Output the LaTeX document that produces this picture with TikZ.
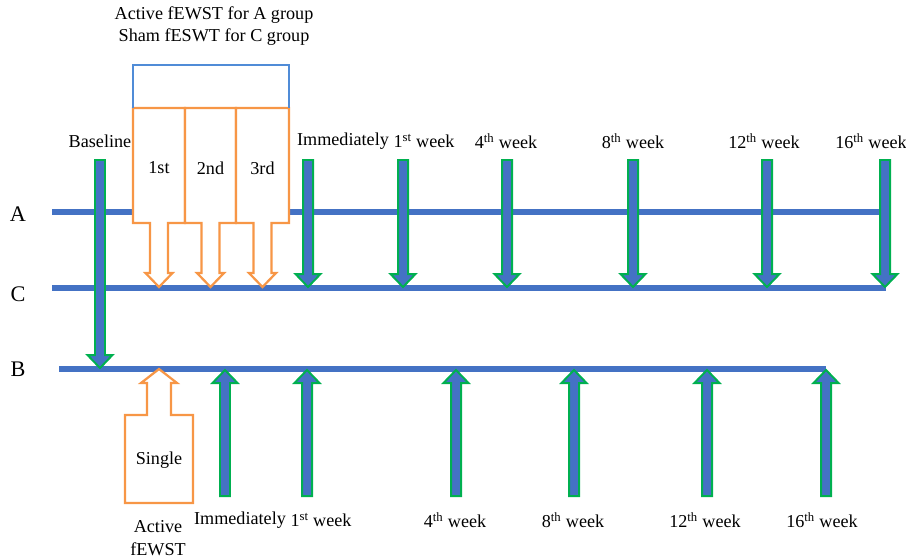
\documentclass[tikz,border=0pt]{standalone}
\usepackage{fontspec}
\setmainfont{Liberation Serif}
\usetikzlibrary{calc}
\definecolor{LineBlue}{RGB}{68,114,196}
\definecolor{EdgeGreen}{RGB}{0,176,80}
\definecolor{ShockOrange}{RGB}{247,150,70}
\definecolor{BracketBlue}{RGB}{80,140,215}
\tikzset{
  timeline/.style={
    draw=LineBlue,
    line width=4.3pt
  },
  visit/.style={
    draw=EdgeGreen,
    fill=LineBlue,
    line width=1.7pt
  },
  session/.style={
    draw=ShockOrange,
    fill=white,
    line width=1.9pt
  },
  label/.style={
    font=\fontsize{15.5}{18}\selectfont,
    inner sep=0pt
  },
  group/.style={
    font=\fontsize{19}{22}\selectfont,
    inner sep=0pt
  },
  bracket/.style={draw=BracketBlue,line width=1pt}
}

\begin{document}
\begin{tikzpicture}[x=0.03cm,y=-0.03cm]
\useasboundingbox (0,0) rectangle (906,559);

% group lines
\coordinate (Aw) at (52,212);
\coordinate (Ae) at (883,212);
\coordinate (Cw) at (52,288);
\coordinate (Ce) at (886,288);
\coordinate (Bw) at (59,369);
\coordinate (Be) at (826,369);

\draw[timeline] (Aw) -- (Ae);
\draw[timeline] (Cw) -- (Ce);
\draw[timeline] (Bw) -- (Be);

\node[group] (gA) at (18,214) {A};
\node[group] (gC) at (18,294) {C};
\node[group] (gB) at (18,369) {B};

% three sessions for A and C
\foreach \l/\r/\n in {133/185/1st,185/236/2nd,236/289/3rd}{
  \pgfmathsetmacro\c{(\l+\r)/2}
  \draw[session] (\l,108) -- (\r,108) -- (\r,223) -- (\c+9,223) -- (\c+9,273)
    -- (\c+13.5,273) -- (\c,287) -- (\c-13.5,273) -- (\c-9,273) -- (\c-9,223)
    -- (\l,223) -- cycle;
  \node[label] (s\n) at (\c,168) {\n};
}
\coordinate (boxnw) at (133,108);
\coordinate (boxne) at (289,108);
\draw[bracket] (boxnw) -- ++(0,-43) -| (boxne);

\node[label] (t1) at (214,15) {Active fEWST for A group};
\node[label] (t2) at (214,37) {Sham fESWT for C group};

% single session for B
\draw[session] (125,415) -- (147,415) -- (147,383) -- (141,383) -- (159,369)
  -- (177,383) -- (171,383) -- (171,415) -- (193,415) -- (193,503)
  -- (125,503) -- cycle;
\node[label] (single) at (159,460) {Single};
\node[label] (act1) at (158,527) {Active};
\node[label] (act2) at (158,549) {fEWST};

% baseline
\draw[visit] (95,160) -- (105,160) -- (105,355) -- (112.5,355) -- (100,368)
  -- (87.5,355) -- (95,355) -- cycle;
\node[label] (base) at (100,141) {Baseline};

% follow-up for A and C
\foreach \x in {308,403,507,633,767,885}{
  \draw[visit] (\x-5,160) -- (\x+5,160) -- (\x+5,274) -- (\x+12.5,274)
    -- (\x,287) -- (\x-12.5,274) -- (\x-5,274) -- cycle;
}
\node[label] (u0) at (343,141) {Immediately};
\node[label] (u1) at (424,141) {1\textsuperscript{st} week};
\node[label] (u4) at (506,141) {4\textsuperscript{th} week};
\node[label] (u8) at (633,141) {8\textsuperscript{th} week};
\node[label] (u12) at (764,141) {12\textsuperscript{th} week};
\node[label] (u16) at (871,141) {16\textsuperscript{th} week};

% follow-up for B
\foreach \x in {225,307,456,574,707,826}{
  \draw[visit] (\x-5,496) -- (\x+5,496) -- (\x+5,383) -- (\x+12.5,383)
    -- (\x,370) -- (\x-12.5,383) -- (\x-5,383) -- cycle;
}
\node[label] (d0) at (240,520) {Immediately};
\node[label] (d1) at (321,520) {1\textsuperscript{st} week};
\node[label] (d4) at (455,520) {4\textsuperscript{th} week};
\node[label] (d8) at (573,520) {8\textsuperscript{th} week};
\node[label] (d12) at (705,520) {12\textsuperscript{th} week};
\node[label] (d16) at (822,520) {16\textsuperscript{th} week};

\end{tikzpicture}
\end{document}
